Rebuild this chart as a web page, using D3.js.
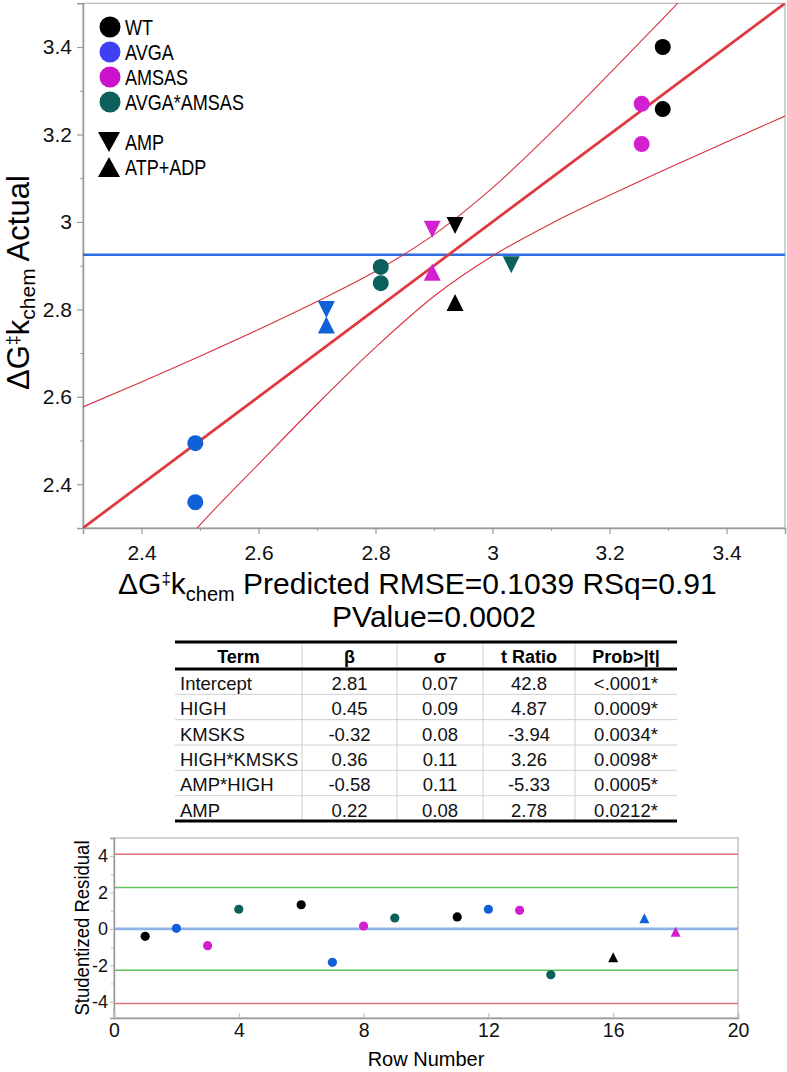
<!DOCTYPE html>
<html><head><meta charset="utf-8">
<script src="https://cdn.jsdelivr.net/npm/d3@7"></script>
<style>
body{margin:0;background:#fff;}
svg{display:block;font-family:"Liberation Sans",Arial,Helvetica,sans-serif;}
</style>
</head><body>
<svg id="c" width="787" height="1072"></svg>
<script>
// ---------------- DATA ----------------
const groups = ["WT", "AVGA", "AMSAS", "AVGA*AMSAS"];
const groupColors = ["#000000", "#1060d8", "#d21fd2", "#0b605b"];
const legendColors = ["#000000", "#3f3ff5", "#cc11cc", "#0b605b"];
const shapeLegend = ["AMP", "ATP+ADP"];

const ptGroup = ["WT","WT","AMSAS","AMSAS","AVGA","AVGA","AVGA*AMSAS","AVGA*AMSAS",
                 "WT","AMSAS","AVGA","AVGA*AMSAS","WT","AMSAS","AVGA"];
const ptShape = ["circle","circle","circle","circle","circle","circle","circle","circle",
                 "AMP","AMP","AMP","AMP","ATP+ADP","ATP+ADP","ATP+ADP"];
const predicted = [3.291,3.291,3.255,3.255,2.492,2.492,2.809,2.809,
                   2.936,2.897,2.716,3.032,2.936,2.897,2.716];
const actual    = [3.400,3.258,3.270,3.178,2.494,2.359,2.897,2.860,
                   2.992,2.983,2.800,2.902,2.816,2.885,2.764];
const meanActual = 2.925;
const fitX = [2.3, 3.5];
const fitY = [2.3, 3.5];
const upperX = [2.3, 2.4, 2.5, 2.6, 2.7, 2.8, 2.9, 3.0, 3.1, 3.2, 3.3, 3.32];
const upperY = [2.577, 2.634, 2.693, 2.754, 2.818, 2.887, 2.971, 3.078, 3.204, 3.339, 3.477, 3.505];
const lowerX = [2.49, 2.5, 2.6, 2.7, 2.8, 2.9, 3.0, 3.1, 3.2, 3.3, 3.4, 3.5];
const lowerY = [2.292, 2.307, 2.446, 2.583, 2.713, 2.830, 2.922, 2.996, 3.061, 3.123, 3.183, 3.242];
const topTicks = [2.4, 2.6, 2.8, 3.0, 3.2, 3.4];
const topTickLabels = ["2.4", "2.6", "2.8", "3", "3.2", "3.4"];
const topMinor = [2.5, 2.7, 2.9, 3.1, 3.3];

const terms  = ["Intercept", "HIGH", "KMSKS", "HIGH*KMSKS", "AMP*HIGH", "AMP"];
const beta   = ["2.81", "0.45", "-0.32", "0.36", "-0.58", "0.22"];
const sigma  = ["0.07", "0.09", "0.08", "0.11", "0.11", "0.08"];
const tRatio = ["42.8", "4.87", "-3.94", "3.26", "-5.33", "2.78"];
const prob   = ["<.0001*", "0.0009*", "0.0034*", "0.0098*", "0.0005*", "0.0212*"];
const headers = ["Term", "β", "σ", "t Ratio", "Prob>|t|"];

const rowNumbers = [1, 2, 3, 4, 6, 7, 8, 9, 11, 12, 13, 14, 16, 17, 18];
const residuals  = [-0.41, 0.03, -0.92, 1.08, 1.33, -1.84, 0.16, 0.60, 0.66, 1.08, 1.02, -2.52, -1.56, 0.58, -0.15];
const residGroup = ["WT","AVGA","AMSAS","AVGA*AMSAS","WT","AVGA","AMSAS","AVGA*AMSAS",
                    "WT","AVGA","AMSAS","AVGA*AMSAS","WT","AVGA","AMSAS"];
const residShape = ["circle","circle","circle","circle","circle","circle","circle","circle",
                    "circle","circle","circle","circle","up","up","up"];
const redLimits = [4.1, -4.1];
const greenLimits = [2.28, -2.28];
const residTicks = [-4, -2, 0, 2, 4];
const residTickLabels = ["-4", "-2", "0", "2", "4"];
const residMinor = [-3, -1, 1, 3];
const rowTicks = [0, 4, 8, 12, 16, 20];

// ---------------- DRAW ----------------
const svg = d3.select("#c");
const color = d3.scaleOrdinal(groups, groupColors);
const legendColor = d3.scaleOrdinal(groups, legendColors);
const axisGray = "#9a9a9a";

function tri(w, h, down) {
  return down ? `M${-w/2},${-h/2}L${w/2},${-h/2}L0,${h/2}Z`
              : `M0,${-h/2}L${w/2},${h/2}L${-w/2},${h/2}Z`;
}

// ---- Top leverage plot ----
const X = d3.scaleLinear().domain([2.3, 3.5]).range([83, 785]);
const Y = d3.scaleLinear().domain([2.3, 3.5]).range([528, 3.3]);

svg.append("defs").append("clipPath").attr("id", "clipTop")
  .append("rect").attr("x", X(2.3)).attr("y", Y(3.5))
  .attr("width", X(3.5) - X(2.3)).attr("height", Y(2.3) - Y(3.5));

const topG = svg.append("g");
topG.append("rect").attr("x", X(2.3)).attr("y", Y(3.5))
  .attr("width", X(3.5) - X(2.3)).attr("height", Y(2.3) - Y(3.5))
  .attr("fill", "none").attr("stroke", "#b5b5b5").attr("stroke-width", 1.2);

const yAx = topG.append("g").attr("transform", `translate(${X(2.3)},0)`)
  .call(d3.axisLeft(Y).tickValues(topTicks).tickFormat((d, i) => topTickLabels[i]).tickSize(6).tickPadding(5));
const xAx = topG.append("g").attr("transform", `translate(0,${Y(2.3)})`)
  .call(d3.axisBottom(X).tickValues(topTicks).tickFormat((d, i) => topTickLabels[i]).tickSize(6).tickPadding(11));
[yAx, xAx].forEach(a => {
  a.select(".domain").attr("stroke", axisGray).attr("stroke-width", 1.5);
  a.selectAll(".tick line").attr("stroke", axisGray).attr("stroke-width", 1.2);
  a.selectAll(".tick text").attr("font-size", 21).attr("fill", "#111")
   .attr("font-family", "Liberation Sans, Arial, sans-serif");
});
topG.append("g").attr("transform", `translate(${X(2.3)},0)`)
  .call(d3.axisLeft(Y).tickValues(topMinor).tickFormat("").tickSize(3))
  .call(g => { g.select(".domain").remove(); g.selectAll("line").attr("stroke", axisGray); });
topG.append("g").attr("transform", `translate(0,${Y(2.3)})`)
  .call(d3.axisBottom(X).tickValues(topMinor).tickFormat("").tickSize(3))
  .call(g => { g.select(".domain").remove(); g.selectAll("line").attr("stroke", axisGray); });

const plotG = topG.append("g").attr("clip-path", "url(#clipTop)");
const line = d3.line().x(d => X(d[0])).y(d => Y(d[1])).curve(d3.curveMonotoneX);
plotG.append("line").attr("x1", X(2.3)).attr("x2", X(3.5))
  .attr("y1", Y(meanActual)).attr("y2", Y(meanActual))
  .attr("stroke", "#2f6de0").attr("stroke-width", 2.6);
plotG.append("path").attr("d", line(d3.zip(upperX, upperY)))
  .attr("fill", "none").attr("stroke", "#d8323f").attr("stroke-width", 1.1);
plotG.append("path").attr("d", line(d3.zip(lowerX, lowerY)))
  .attr("fill", "none").attr("stroke", "#d8323f").attr("stroke-width", 1.1);
plotG.append("path").attr("d", line(d3.zip(fitX, fitY)))
  .attr("fill", "none").attr("stroke", "#df3a40").attr("stroke-width", 2.8);

const pts = d3.range(predicted.length).map(i => ({x: predicted[i], y: actual[i], g: ptGroup[i], s: ptShape[i]}));
plotG.selectAll("circle.pt").data(pts.filter(d => d.s === "circle")).join("circle")
  .attr("cx", d => X(d.x)).attr("cy", d => Y(d.y)).attr("r", 8)
  .attr("fill", d => color(d.g));
plotG.selectAll("path.tri").data(pts.filter(d => d.s !== "circle")).join("path")
  .attr("transform", d => `translate(${X(d.x)},${Y(d.y)})`)
  .attr("d", d => tri(17, 17, d.s === "AMP"))
  .attr("fill", d => color(d.g));

// legend
const leg = topG.append("g");
const legY = d3.scalePoint().domain(groups).range([27, 102]);
groups.forEach(g => {
  leg.append("circle").attr("cx", 110).attr("cy", legY(g)).attr("r", 10.5).attr("fill", legendColor(g));
  leg.append("text").attr("transform", `translate(125,${legY(g) + 8}) scale(0.82,1)`)
    .attr("font-size", 22).attr("fill", "#000").text(g);
});
const shapeY = d3.scalePoint().domain(shapeLegend).range([142, 167]);
shapeLegend.forEach((s, i) => {
  leg.append("path").attr("transform", `translate(109,${shapeY(s)})`)
    .attr("d", tri(22, 20, i === 0)).attr("fill", "#000");
  leg.append("text").attr("transform", `translate(125,${shapeY(s) + 8}) scale(0.82,1)`)
    .attr("font-size", 22).attr("fill", "#000").text(s);
});

// y title
const yt = topG.append("text").attr("transform", "translate(29,390) rotate(-90)")
  .attr("font-size", 31).attr("fill", "#000");
yt.append("tspan").text("ΔG");
yt.append("tspan").attr("font-size", 18).attr("dy", -10).text("‡");
yt.append("tspan").attr("dy", 10).text("k");
yt.append("tspan").attr("font-size", 21).attr("dy", 6).text("chem");
yt.append("tspan").attr("dy", -6).text(" Actual");

// x title
const xt = topG.append("text").attr("x", 118).attr("y", 594).attr("font-size", 30).attr("fill", "#000");
xt.append("tspan").text("ΔG");
xt.append("tspan").attr("font-size", 17).attr("dy", -10).text("‡");
xt.append("tspan").attr("dy", 10).text("k");
xt.append("tspan").attr("font-size", 20).attr("dy", 7).text("chem");
xt.append("tspan").attr("dy", -7).text(" Predicted RMSE=0.1039 RSq=0.91");
topG.append("text").attr("x", (X(2.3) + X(3.5)) / 2).attr("y", 627).attr("text-anchor", "middle")
  .attr("font-size", 30).attr("fill", "#000").text("PValue=0.0002");

// ---- Table ----
const colEdges = [175, 302, 397, 483, 575, 677];
const tbl = svg.append("g");
const rowScale = d3.scaleBand().domain(d3.range(terms.length)).range([669, 821]);
const tTop = 642;
colEdges.slice(1, -1).forEach(x => {
  tbl.append("line").attr("x1", x).attr("x2", x).attr("y1", tTop).attr("y2", 821)
    .attr("stroke", "#cfcfcf").attr("stroke-width", 1);
});
d3.range(1, terms.length).forEach(i => {
  tbl.append("line").attr("x1", colEdges[0]).attr("x2", colEdges[5])
    .attr("y1", rowScale(i)).attr("y2", rowScale(i)).attr("stroke", "#cfcfcf").attr("stroke-width", 1);
});
[tTop, 669, 821].forEach(y => {
  tbl.append("line").attr("x1", colEdges[0]).attr("x2", colEdges[5]).attr("y1", y).attr("y2", y)
    .attr("stroke", "#000").attr("stroke-width", 3);
});
headers.forEach((h, j) => {
  tbl.append("text").attr("x", (colEdges[j] + colEdges[j + 1]) / 2).attr("y", 663)
    .attr("text-anchor", "middle").attr("font-size", 18).attr("font-weight", "bold").text(h);
});
const cols = [terms, beta, sigma, tRatio, prob];
cols.forEach((col, j) => {
  col.forEach((v, i) => {
    tbl.append("text")
      .attr("x", j === 0 ? colEdges[0] + 5 : (colEdges[j] + colEdges[j + 1]) / 2)
      .attr("y", rowScale(i) + 21)
      .attr("text-anchor", j === 0 ? "start" : "middle")
      .attr("font-size", 18.5).attr("fill", "#111").text(v);
  });
});

// ---- Residual plot ----
const RX = d3.scaleLinear().domain([0, 20]).range([114, 738]);
const RY = d3.scaleLinear().domain([-4.9, 5]).range([1018, 838]);
const bot = svg.append("g");
bot.append("rect").attr("x", RX(0)).attr("y", RY(5)).attr("width", RX(20) - RX(0))
  .attr("height", RY(-4.9) - RY(5)).attr("fill", "none").attr("stroke", "#b5b5b5").attr("stroke-width", 1.2);
redLimits.forEach(v => bot.append("line").attr("x1", RX(0)).attr("x2", RX(20)).attr("y1", RY(v)).attr("y2", RY(v))
  .attr("stroke", "#e07080").attr("stroke-width", 1.5));
greenLimits.forEach(v => bot.append("line").attr("x1", RX(0)).attr("x2", RX(20)).attr("y1", RY(v)).attr("y2", RY(v))
  .attr("stroke", "#5fc25f").attr("stroke-width", 1.5));
bot.append("line").attr("x1", RX(0)).attr("x2", RX(20)).attr("y1", RY(0)).attr("y2", RY(0))
  .attr("stroke", "#8fb2e8").attr("stroke-width", 2.6);

const ryAx = bot.append("g").attr("transform", `translate(${RX(0)},0)`)
  .call(d3.axisLeft(RY).tickValues(residTicks).tickFormat((d, i) => residTickLabels[i]).tickSize(4).tickPadding(2));
const rxAx = bot.append("g").attr("transform", `translate(0,${RY(-4.9)})`)
  .call(d3.axisBottom(RX).tickValues(rowTicks).tickSize(-5).tickPadding(5));
[ryAx, rxAx].forEach(a => {
  a.select(".domain").attr("stroke", axisGray).attr("stroke-width", 1.4);
  a.selectAll(".tick line").attr("stroke", "#bbb");
  a.selectAll(".tick text").attr("fill", "#111")
   .attr("font-family", "Liberation Sans, Arial, sans-serif");
});
ryAx.selectAll(".tick text").attr("font-size", 18);
rxAx.selectAll(".tick text").attr("font-size", 19.5);
bot.append("g").attr("transform", `translate(${RX(0)},0)`)
  .call(d3.axisLeft(RY).tickValues(residMinor).tickFormat("").tickSize(3))
  .call(g => { g.select(".domain").remove(); g.selectAll("line").attr("stroke", "#bbb"); });

const rpts = d3.range(rowNumbers.length).map(i => ({x: rowNumbers[i], y: residuals[i], g: residGroup[i], s: residShape[i]}));
bot.selectAll("circle.r").data(rpts.filter(d => d.s === "circle")).join("circle")
  .attr("cx", d => RX(d.x)).attr("cy", d => RY(d.y)).attr("r", 4.6).attr("fill", d => color(d.g));
bot.selectAll("path.r").data(rpts.filter(d => d.s !== "circle")).join("path")
  .attr("transform", d => `translate(${RX(d.x)},${RY(d.y)})`)
  .attr("d", tri(10, 10, false)).attr("fill", d => color(d.g));

bot.append("text").attr("transform", `translate(89,${(RY(5) + RY(-4.9)) / 2}) rotate(-90)`)
  .attr("text-anchor", "middle").attr("font-size", 20).attr("textLength", 175)
  .attr("lengthAdjust", "spacingAndGlyphs").text("Studentized Residual");
bot.append("text").attr("x", (RX(0) + RX(20)) / 2).attr("y", 1066).attr("text-anchor", "middle")
  .attr("font-size", 20).text("Row Number");
</script>
</body></html>
